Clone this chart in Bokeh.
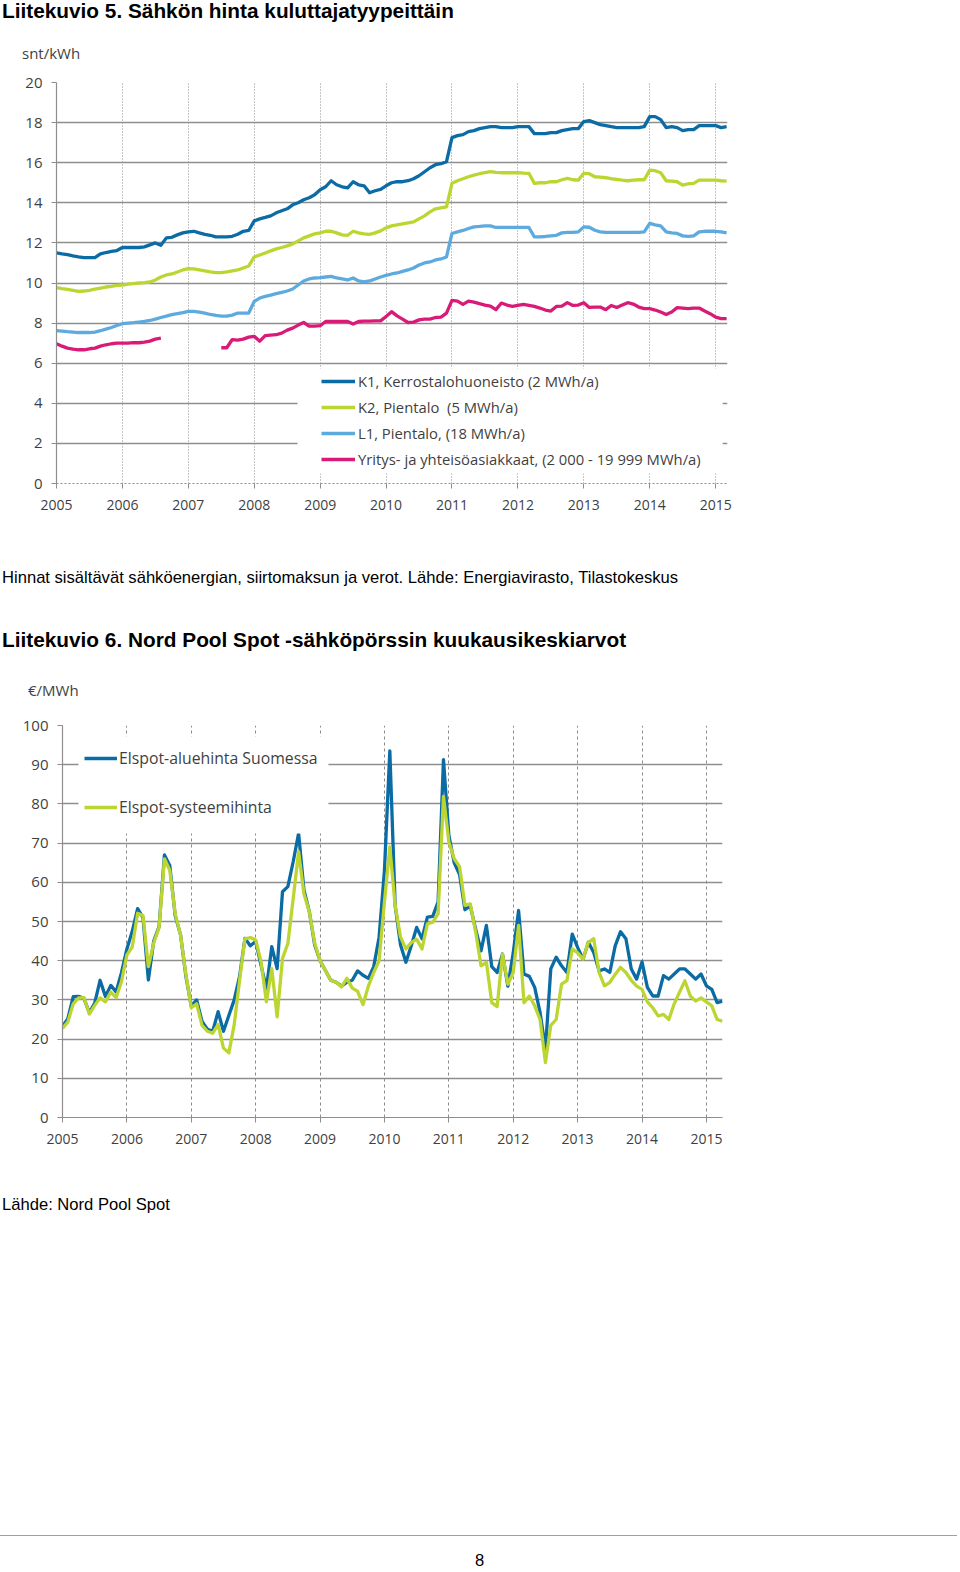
from bokeh.plotting import figure
from bokeh.models import Range1d, FixedTicker, Legend, LegendItem, BoxAnnotation, Div
from bokeh.layouts import column
from bokeh.embed import file_html
from bokeh.resources import INLINE

nan = float("nan")

# ---------------- Chart 1: monthly prices, snt/kWh, 2005-01 .. 2015-03 ----------------
k1 = [11.5, 11.45, 11.42, 11.35, 11.3, 11.27, 11.27, 11.27, 11.45, 11.52, 11.58, 11.62,
      11.77, 11.77, 11.77, 11.77, 11.8, 11.9, 12.0, 11.88, 12.25, 12.28, 12.4, 12.5,
      12.55, 12.58, 12.5, 12.43, 12.38, 12.3, 12.3, 12.3, 12.33, 12.43, 12.58, 12.62,
      13.1, 13.2, 13.27, 13.35, 13.5, 13.6, 13.7, 13.9, 14.0, 14.15, 14.25, 14.4,
      14.65, 14.8, 15.1, 14.9, 14.8, 14.75, 15.05, 14.9, 14.85, 14.5, 14.6, 14.67,
      14.85, 15.0, 15.05, 15.05, 15.1, 15.2, 15.35, 15.55, 15.75, 15.9, 15.95, 16.05,
      17.25, 17.35, 17.4, 17.55, 17.6, 17.7, 17.75, 17.8, 17.8, 17.75, 17.75, 17.75,
      17.8, 17.8, 17.8, 17.45, 17.45, 17.45, 17.5, 17.5, 17.6, 17.65, 17.7, 17.7,
      18.05, 18.1, 18.0, 17.9, 17.85, 17.8, 17.75, 17.75, 17.75, 17.75, 17.75, 17.8,
      18.3, 18.3, 18.15, 17.75, 17.8, 17.75, 17.6, 17.65, 17.65, 17.85, 17.85, 17.85,
      17.85, 17.75, 17.8]
k2 = [9.77, 9.72, 9.68, 9.63, 9.58, 9.6, 9.63, 9.7, 9.75, 9.8, 9.83, 9.88,
      9.9, 9.95, 9.97, 10.0, 10.02, 10.05, 10.15, 10.3, 10.4, 10.45, 10.55, 10.65,
      10.72, 10.7, 10.65, 10.6, 10.55, 10.52, 10.52, 10.55, 10.6, 10.65, 10.75, 10.85,
      11.3, 11.4, 11.5, 11.6, 11.7, 11.77, 11.85, 11.95, 12.1, 12.25, 12.35, 12.45,
      12.5, 12.58, 12.58, 12.5, 12.4, 12.38, 12.58, 12.5, 12.45, 12.43, 12.5, 12.6,
      12.75, 12.85, 12.9, 12.95, 13.0, 13.05, 13.2, 13.35, 13.55, 13.7, 13.75, 13.8,
      14.97, 15.1, 15.2, 15.3, 15.38, 15.45, 15.5, 15.55, 15.52, 15.5, 15.5, 15.5,
      15.5, 15.48, 15.47, 14.97, 15.0, 15.0, 15.05, 15.05, 15.15, 15.22, 15.15, 15.13,
      15.47, 15.45, 15.3, 15.28, 15.25, 15.2, 15.17, 15.13, 15.1, 15.13, 15.15, 15.15,
      15.63, 15.6, 15.5, 15.1, 15.08, 15.05, 14.88, 14.95, 14.97, 15.13, 15.13, 15.13,
      15.13, 15.1, 15.08]
l1 = [7.63, 7.6, 7.57, 7.55, 7.53, 7.53, 7.53, 7.55, 7.62, 7.7, 7.78, 7.88,
      7.97, 8.0, 8.02, 8.05, 8.08, 8.13, 8.2, 8.28, 8.35, 8.42, 8.47, 8.52,
      8.58, 8.58, 8.55, 8.5, 8.43, 8.38, 8.35, 8.35, 8.4, 8.5, 8.5, 8.5,
      9.08, 9.25, 9.33, 9.4, 9.47, 9.53, 9.6, 9.7, 9.9, 10.1, 10.2, 10.25,
      10.27, 10.3, 10.33, 10.25, 10.2, 10.15, 10.25, 10.1, 10.05, 10.1, 10.2, 10.3,
      10.38, 10.45, 10.5, 10.58, 10.65, 10.75, 10.9, 11.0, 11.05, 11.15, 11.2, 11.3,
      12.47, 12.55, 12.62, 12.72, 12.8, 12.82, 12.85, 12.85, 12.77, 12.77, 12.77, 12.77,
      12.77, 12.77, 12.77, 12.3, 12.3, 12.32, 12.35, 12.38, 12.5, 12.52, 12.52, 12.55,
      12.8, 12.78, 12.63, 12.55, 12.52, 12.52, 12.52, 12.52, 12.52, 12.52, 12.52, 12.55,
      12.97, 12.9, 12.85, 12.55, 12.5, 12.47, 12.35, 12.33, 12.35, 12.55, 12.58, 12.58,
      12.58, 12.55, 12.5]
yritys = [6.97, 6.85, 6.75, 6.7, 6.67, 6.67, 6.72, 6.75, 6.85, 6.92, 6.97, 7.0,
          7.0, 7.0, 7.03, 7.02, 7.05, 7.1, 7.2, 7.25, nan, nan, nan, nan,
          nan, nan, nan, nan, nan, nan, 6.77, 6.77, 7.18, 7.15, 7.2, 7.3,
          7.34, 7.1, 7.38, 7.4, 7.42, 7.5, 7.65, 7.75, 7.9, 8.03, 7.85, 7.85,
          7.87, 8.08, 8.08, 8.08, 8.08, 8.08, 7.95, 8.08, 8.1, 8.1, 8.11, 8.11,
          8.33, 8.57, 8.36, 8.2, 8.03, 8.05, 8.16, 8.2, 8.2, 8.28, 8.3, 8.5,
          9.13, 9.1, 8.93, 9.1, 9.05, 8.97, 8.9, 8.85, 8.67, 9.0, 8.9, 8.83,
          8.88, 8.93, 8.88, 8.83, 8.75, 8.65, 8.6, 8.83, 8.85, 9.02, 8.88, 8.9,
          9.02, 8.78, 8.8, 8.8, 8.67, 8.88, 8.78, 8.9, 9.02, 8.95, 8.8, 8.72,
          8.72, 8.65, 8.55, 8.43, 8.55, 8.77, 8.75, 8.72, 8.75, 8.75, 8.6, 8.47,
          8.3, 8.22, 8.22]
series1_names = ["K1, Kerrostalohuoneisto (2 MWh/a)", "K2, Pientalo  (5 MWh/a)",
                 "L1, Pientalo, (18 MWh/a)", "Yritys- ja yhteisöasiakkaat, (2 000 - 19 999 MWh/a)"]

# ---------------- Chart 2: Elspot monthly averages, EUR/MWh, 2005-01 .. 2015-04 ----------------
elspot_fi = [23.2, 25.2, 30.8, 30.9, 30.4, 26.7, 29.2, 35.0, 30.9, 33.7, 32.0, 37.0,
             43.0, 47.5, 53.3, 51.0, 35.1, 45.0, 48.7, 67.0, 64.2, 51.5, 46.6, 36.0,
             28.4, 30.0, 24.5, 22.5, 22.0, 27.0, 22.0, 26.0, 30.0, 36.0, 45.7, 43.8,
             44.9, 38.9, 32.9, 43.6, 38.0, 57.6, 58.9, 65.3, 72.5, 58.0, 52.5, 44.0,
             40.0, 37.5, 35.0, 34.5, 33.5, 34.5, 35.0, 37.4, 36.3, 35.5, 38.5, 46.0,
             63.0, 93.5, 54.0, 44.0, 39.6, 43.8, 48.5, 45.6, 51.1, 51.3, 55.0, 91.3,
             72.0, 65.0, 62.0, 53.0, 54.0, 48.0, 42.5, 49.0, 38.5, 37.0, 41.7, 33.5,
             42.0, 52.8, 36.6, 36.0, 33.2, 26.8, 17.4, 37.9, 40.9, 38.7, 37.0, 46.8,
             43.4, 40.4, 44.7, 42.1, 37.4, 37.9, 37.0, 43.8, 47.4, 45.6, 37.9, 35.3,
             39.7, 33.2, 31.0, 31.0, 36.2, 35.3, 36.6, 37.9, 37.9, 36.6, 35.3, 36.6,
             33.6, 32.7, 29.3, 29.7]
elspot_sys = [22.7, 24.4, 29.0, 30.5, 30.6, 26.4, 28.6, 30.5, 29.5, 32.0, 30.6, 34.7,
              41.5, 43.5, 52.1, 51.5, 38.5, 44.5, 48.5, 66.0, 63.0, 52.0, 46.5, 36.5,
              28.0, 29.0, 23.5, 22.0, 21.5, 23.7, 17.7, 16.5, 23.7, 35.0, 45.6, 45.9,
              45.3, 39.7, 29.5, 38.0, 25.7, 40.6, 44.4, 55.9, 67.8, 57.0, 52.5, 44.5,
              40.0, 37.5, 35.0, 34.5, 33.3, 35.5, 33.0, 32.2, 28.8, 33.5, 37.0, 40.0,
              55.0, 69.0, 54.0, 46.0, 43.0, 44.6, 45.5, 43.0, 49.4, 49.8, 52.0, 81.9,
              70.3, 66.0, 64.0, 54.1, 54.5, 47.3, 38.7, 39.6, 29.3, 28.3, 41.7, 34.0,
              37.0, 49.0, 29.3, 31.0, 28.5, 25.0, 14.0, 23.5, 25.0, 34.0, 34.9, 43.0,
              42.0, 40.4, 44.7, 45.6, 37.0, 33.6, 34.5, 36.5, 38.3, 37.0, 35.0, 33.5,
              32.7, 29.5, 28.0, 25.9, 26.3, 25.0, 29.0, 32.0, 34.9, 31.0, 29.7, 30.5,
              29.5, 28.5, 25.0, 24.6]
series2_names = ["Elspot-aluehinta Suomessa", "Elspot-systeemihinta"]

years = list(range(2005, 2016))
year_labels = [str(y) for y in years]
y1_ticks = list(range(0, 21, 2))
y2_ticks = list(range(0, 101, 10))

title1 = "Liitekuvio 5. Sähkön hinta kuluttajatyypeittäin"
unit1 = "snt/kWh"
caption1 = "Hinnat sisältävät sähköenergian, siirtomaksun ja verot. Lähde: Energiavirasto, Tilastokeskus"
title2 = "Liitekuvio 6. Nord Pool Spot -sähköpörssin kuukausikeskiarvot"
unit2 = "€/MWh"
source2 = "Lähde: Nord Pool Spot"
page_no = "8"


def month_axis(n):
    return [2005 + i / 12 for i in range(n)]


FONT = "Open Sans"
PAGE_FONT = "'Liberation Sans', Arial, sans-serif"
GRID = "#8e8e8e"
TICK_TXT = "#3f3f3f"


def base_style(p, yticks, vgrid_dash, xaxis_dash):
    p.background_fill_color = "white"
    p.border_fill_color = "white"
    p.outline_line_color = None
    p.xaxis.ticker = FixedTicker(ticks=years)
    p.xaxis.major_label_overrides = {y: s for y, s in zip(years, year_labels)}
    p.yaxis.ticker = FixedTicker(ticks=yticks)
    p.xgrid.ticker = FixedTicker(ticks=years[1:])
    p.ygrid.ticker = FixedTicker(ticks=yticks[1:])
    p.xgrid.grid_line_color = "#8a8a8a"
    p.xgrid.grid_line_dash = vgrid_dash
    p.xgrid.grid_line_width = 1
    p.ygrid.grid_line_color = GRID
    p.ygrid.grid_line_width = 1.4
    for ax in (p.xaxis, p.yaxis):
        ax.axis_line_color = GRID
        ax.axis_line_width = 1.2
        ax.major_tick_line_color = GRID
        ax.major_tick_out = 5
        ax.major_tick_in = 0
        ax.minor_tick_line_color = None
        ax.major_label_text_font = FONT
        ax.major_label_text_color = TICK_TXT
    p.xaxis.major_label_text_font_size = "14px"
    p.yaxis.major_label_text_font_size = "15px"
    p.yaxis.major_label_standoff = 9
    p.xaxis.major_label_standoff = 11
    p.xaxis.axis_line_dash = xaxis_dash


def text_div(width, height, items):
    parts = []
    for left, top, s, css in items:
        parts.append(f'<div style="position:absolute;left:{left}px;top:{top}px;white-space:nowrap;'
                     f'{css}">{s}</div>')
    html = f'<div style="position:relative;width:{width}px;height:{height}px;">' + "".join(parts) + "</div>"
    return Div(text=html, width=width, height=height, margin=(0, 0, 0, 0))


BOLD = f"font-family:{PAGE_FONT};font-size:20.8px;line-height:24px;font-weight:bold;color:#000;"
NORMAL = f"font-family:{PAGE_FONT};font-size:16.6px;line-height:20px;color:#000;"
UNIT = f"font-family:'Open Sans';font-size:15px;line-height:20px;color:{TICK_TXT};"

# ---------- header (page y 0..62) ----------
d1 = text_div(956, 62, [(2, -1, title1, BOLD), (22, 43, unit1, UNIT)])

# ---------- figure 1 (page y 62..560) ----------
p1 = figure(frame_width=671, frame_height=401, x_range=Range1d(2005, 2015.18), y_range=Range1d(0, 20),
            min_border_left=62, min_border_right=223, min_border_top=20, min_border_bottom=77,
            output_backend="svg", toolbar_location=None, margin=(0, 0, 0, -6))
base_style(p1, y1_ticks, "1 2", "2 2")

x1 = month_axis(len(k1))
colors1 = ["#0A6BA5", "#BDD531", "#5DAADF", "#D81B77"]
rend1 = []
for vals, c in zip([k1, k2, l1, yritys], colors1):
    rend1.append(p1.line(x1, vals, line_color=c, line_width=3.3, line_join="round"))

p1.add_layout(BoxAnnotation(left=2008.657, right=2015.106, bottom=0.5, top=5.74,
                            fill_color="white", fill_alpha=1, line_color=None))
leg1 = Legend(items=[LegendItem(label=n, renderers=[r]) for n, r in zip(series1_names, rend1)],
              location=(265, 14), padding=0, spacing=6, margin=0, glyph_width=34, glyph_height=20,
              label_height=20, label_standoff=3, border_line_color=None, background_fill_alpha=0,
              label_text_font=FONT, label_text_font_size="14.8px", label_text_color=TICK_TXT)
p1.add_layout(leg1)

# ---------- middle text (page y 560..706) ----------
d2 = text_div(956, 146, [(2, 8, caption1, NORMAL), (2, 68, title2, BOLD), (28, 120, unit2, UNIT)])

# ---------- figure 2 (page y 706..1180) ----------
p2 = figure(frame_width=660, frame_height=392, x_range=Range1d(2005, 2015.25), y_range=Range1d(0, 100),
            min_border_left=62, min_border_right=234, min_border_top=19, min_border_bottom=63,
            output_backend="svg", toolbar_location=None, margin=(0, 0, 0, 0))
base_style(p2, y2_ticks, "3 3", "solid")

x2 = month_axis(len(elspot_fi))
colors2 = ["#0A6BA5", "#BDD531"]
rend2 = []
for vals, c in zip([elspot_fi, elspot_sys], colors2):
    rend2.append(p2.line(x2, vals, line_color=c, line_width=3.3, line_join="round"))

p2.add_layout(BoxAnnotation(left=2005.248, right=2009.13, bottom=72.45, top=97.2,
                            fill_color="white", fill_alpha=1, line_color=None))
leg2 = Legend(items=[LegendItem(label=n, renderers=[r]) for n, r in zip(series2_names, rend2)],
              location=(22, 299), padding=0, spacing=27, margin=0, glyph_width=33, glyph_height=20,
              label_height=20, label_standoff=2, border_line_color=None, background_fill_alpha=0,
              label_text_font=FONT, label_text_font_size="15.8px", label_text_color=TICK_TXT)
p2.add_layout(leg2)

# ---------- footer (page y 1180..1570) ----------
RULE = "border-top:1px solid #a0a0a0;width:957px;height:0;"
d3 = text_div(960, 390, [(2, 15, source2, NORMAL), (0, 355, "", RULE), (475, 371, page_no, NORMAL)])

page = column(d1, p1, d2, p2, d3, spacing=0)

open("out.html", "w").write(file_html(page, INLINE))
